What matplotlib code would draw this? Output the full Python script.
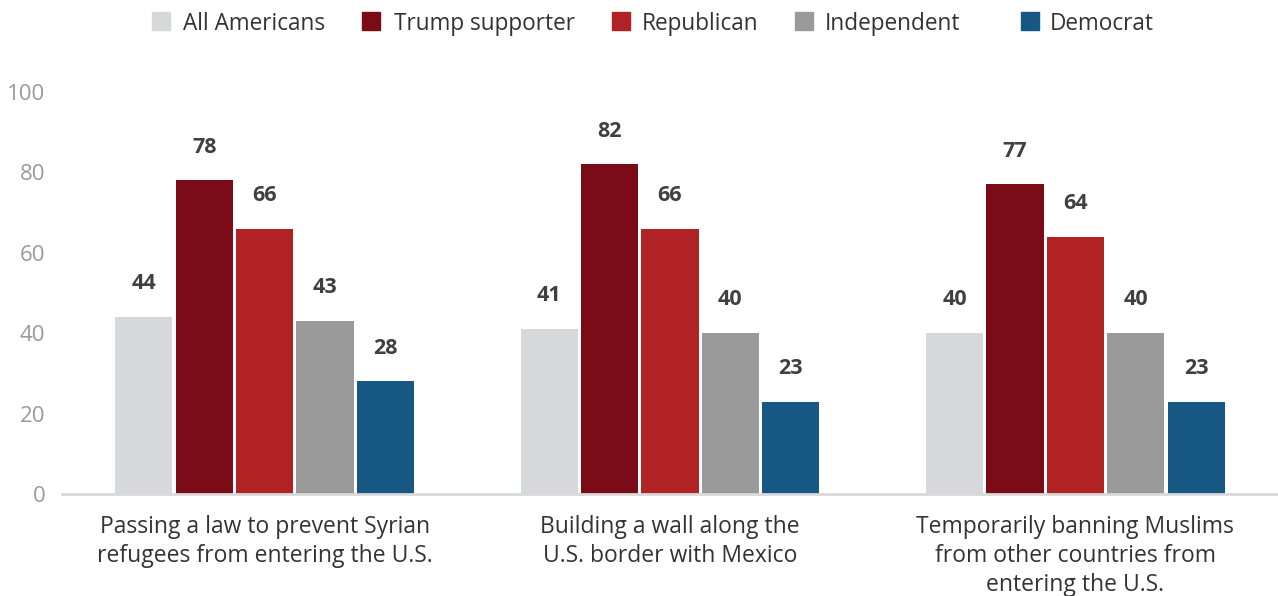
import matplotlib
matplotlib.use("Agg")
import matplotlib.pyplot as plt
from matplotlib.patches import Rectangle
import numpy as np

plt.rcParams['font.family'] = ['Open Sans', 'DejaVu Sans']

categories = ["Passing a law to prevent Syrian\nrefugees from entering the U.S.",
              "Building a wall along the\nU.S. border with Mexico",
              "Temporarily banning Muslims\nfrom other countries from\nentering the U.S."]
series_names = ["All Americans", "Trump supporter", "Republican", "Independent", "Democrat"]
all_americans = [44, 41, 40]
trump_supporter = [78, 82, 77]
republican = [66, 66, 64]
independent = [43, 40, 40]
democrat = [28, 23, 23]
series_values = [all_americans, trump_supporter, republican, independent, democrat]
colors = ["#d7d8da", "#7b0b16", "#b02224", "#9a9a9a", "#175783"]
yticks = [0, 20, 40, 60, 80, 100]

W, H = 1278, 596
fig = plt.figure(figsize=(W / 100, H / 100), dpi=100)
ax = fig.add_axes([62 / W, 102 / H, 1216 / W, (494 - 92) / H])

x = np.arange(len(categories))
step = 0.149
width = 0.141
for i, (name, vals, c) in enumerate(zip(series_names, series_values, colors)):
    pos = x + (i - 2) * step
    ax.bar(pos, vals, width, color=c, label=name, zorder=2)
    for p, v in zip(pos, vals):
        ax.annotate(str(v), (p, v), xytext=(0, 24), textcoords='offset points',
                    ha='center', va='center', fontsize=15.5, fontweight='bold', color='#404040')

ax.set_xlim(-0.5, 2.5)
ax.set_ylim(0, 100)
ax.set_yticks(yticks)
ax.tick_params(axis='y', length=0, pad=12, labelsize=16, labelcolor='#9a9a9a')
ax.set_xticks(x)
ax.set_xticklabels(categories, fontsize=16.5, color='#333333', linespacing=1.27)
ax.tick_params(axis='x', length=0, pad=15)
for s in ['top', 'right', 'left']:
    ax.spines[s].set_visible(False)
ax.spines['bottom'].set_color('#d9d9d9')
ax.spines['bottom'].set_linewidth(2)

# legend (manual layout)
sq_left = [152, 362, 612, 795, 1021]
txt_left = [183, 394, 642, 825, 1050]
sq_top = 12
sq = 18
baseline = 30
for name, c, sl, tl in zip(series_names, colors, sq_left, txt_left):
    fig.patches.append(Rectangle((sl / W, 1 - (sq_top + sq) / H), sq / W, sq / H,
                                 transform=fig.transFigure, color=c, figure=fig))
    fig.text(tl / W, 1 - baseline / H, name, ha='left', va='baseline', fontsize=16.3, color='#333333')

fig.savefig("out.png", dpi=100)
